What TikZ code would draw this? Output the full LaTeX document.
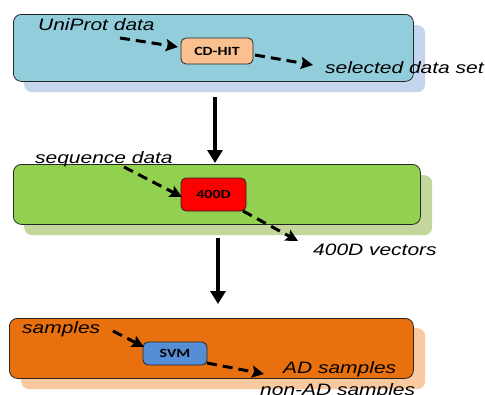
\documentclass[tikz,border=0pt]{standalone}
\usepackage{fontspec}
\usetikzlibrary{arrows.meta,calc}
\newfontfamily\labfont[FakeStretch=1.27]{Liberation Sans}
\newfontfamily\boxfont[FakeStretch=1.27]{Carlito}
\definecolor{fillA}{HTML}{92CDDC}
\definecolor{shadA}{HTML}{C6D5EE}
\definecolor{fillB}{HTML}{92D050}
\definecolor{shadB}{HTML}{C3D69B}
\definecolor{fillC}{HTML}{E8700E}
\definecolor{shadC}{HTML}{FBC9A0}
\definecolor{cdhit}{HTML}{FAC090}
\definecolor{redbox}{HTML}{FF0000}
\definecolor{svmbox}{HTML}{558ED5}
\tikzset{
  bigbox/.style={draw=black!85, line width=0.8pt, rounded corners=8pt, anchor=north west, inner sep=0pt},
  shadbox/.style={rounded corners=8pt, anchor=north west, inner sep=0pt},
  smallbox/.style={draw=black!85, line width=0.8pt, rounded corners=5pt, inner sep=0pt, font=\boxfont\bfseries\fontsize{12.5}{14}\selectfont},
  lab/.style={anchor=base west, inner sep=0pt, font=\labfont\itshape\fontsize{16.5}{19}\selectfont},
  dasharrow/.style={line width=3pt, dash pattern=on 10pt off 6pt, -{Stealth[length=12pt,width=12pt,inset=2pt]}},
  bigarrow/.style={line width=4pt, -{Triangle[width=15pt,length=13pt]}}
}
\begin{document}
\begin{tikzpicture}[x=1pt,y=-1pt]
\useasboundingbox[fill=white] (0,0) rectangle (485,394);
% stage 1
\node[shadbox, fill=shadA, minimum width=401pt, minimum height=67pt] (s1) at (24,25) {};
\node[bigbox, fill=fillA, minimum width=400pt, minimum height=67pt] (b1) at (13,14) {};
\node[smallbox, fill=cdhit, minimum width=72pt, minimum height=26pt] (cd) at (217,51) {CD-HIT};
\node[lab] (t1) at (38,30) {UniProt data};
\node[lab] (t2) at (325,73) {selected data set};
% stage 2
\node[shadbox, fill=shadB, minimum width=408pt, minimum height=60pt] (s2) at (24,175) {};
\node[bigbox, fill=fillB, minimum width=407pt, minimum height=60pt] (b2) at (13,164) {};
\node[smallbox, fill=redbox, minimum width=65pt, minimum height=33pt] (fd) at (213.5,194.5) {400D};
\node[lab] (t3) at (35,163) {sequence data};
\node[lab] (t4) at (313,255) {400D vectors};
% stage 3
\node[shadbox, fill=shadC, minimum width=404pt, minimum height=61pt] (s3) at (21,328) {};
\node[bigbox, fill=fillC, minimum width=404pt, minimum height=60pt] (b3) at (9,318) {};
\node[smallbox, fill=svmbox, minimum width=64pt, minimum height=23pt] (svm) at (175,353.5) {SVM};
\node[lab] (t5) at (22,333) {samples};
\node[lab] (t6) at (283,373) {AD samples};
\node[lab] (t7) at (260,395) {non-AD samples};
% connector ends
\coordinate (a1s) at (120,38);
\coordinate (a1e) at (178,47);
\coordinate (a2s) at (255,55);
\coordinate (a2e) at (313,65);
\coordinate (a3s) at (124,167);
\coordinate (a3e) at (182,197);
\coordinate (a4s) at (243,211);
\coordinate (a4e) at (298,241);
\coordinate (a5s) at (113,331);
\coordinate (a5e) at (144,347);
\coordinate (a6s) at (207,363);
\coordinate (a6e) at (264,374);
\coordinate (m1s) at (215,97);
\coordinate (m1e) at (215,163);
\coordinate (m2s) at (218,238);
\coordinate (m2e) at (218,304);
\draw[dasharrow] (a1s) -- (a1e);
\draw[dasharrow] (a2s) -- (a2e);
\draw[dasharrow] (a3s) -- (a3e);
\draw[dasharrow] (a4s) -- (a4e);
\draw[dasharrow] (a5s) -- (a5e);
\draw[dasharrow] (a6s) -- (a6e);
\draw[bigarrow] (m1s) -- (m1e);
\draw[bigarrow] (m2s) -- (m2e);
\end{tikzpicture}
\end{document}
